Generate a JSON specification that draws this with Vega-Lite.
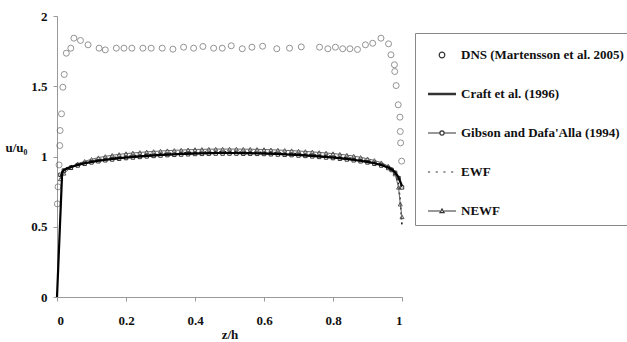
{
  "$schema": "https://vega.github.io/schema/vega-lite/v6.json",
  "width": 345,
  "height": 281,
  "autosize": {"type": "none"},
  "padding": {"left": 57, "top": 16, "right": 225, "bottom": 45},
  "background": "white",
  "config": {
    "view": {"stroke": null},
    "axis": {
      "grid": false,
      "domainColor": "#999",
      "tickColor": "#999",
      "tickSize": 4,
      "labelFont": "Liberation Serif",
      "labelFontWeight": "bold",
      "labelFontSize": 13,
      "labelColor": "#111",
      "titleFont": "Liberation Serif",
      "titleFontWeight": "bold",
      "titleFontSize": 13,
      "titleColor": "#111"
    },
    "legend": {
      "labelFont": "Liberation Serif",
      "labelFontWeight": "bold",
      "labelFontSize": 13,
      "labelColor": "#111"
    }
  },
  "datasets": {
    "dns": [
      {"z": 0.001, "value": 0.663}, {"z": 0.003, "value": 0.784}, {"z": 0.006, "value": 0.94},
      {"z": 0.008, "value": 1.078}, {"z": 0.009, "value": 1.185}, {"z": 0.013, "value": 1.304},
      {"z": 0.017, "value": 1.493}, {"z": 0.021, "value": 1.584}, {"z": 0.027, "value": 1.735},
      {"z": 0.04, "value": 1.771}, {"z": 0.049, "value": 1.842}, {"z": 0.068, "value": 1.826},
      {"z": 0.09, "value": 1.795}, {"z": 0.122, "value": 1.771}, {"z": 0.14, "value": 1.759},
      {"z": 0.172, "value": 1.771}, {"z": 0.194, "value": 1.771}, {"z": 0.217, "value": 1.771},
      {"z": 0.249, "value": 1.771}, {"z": 0.273, "value": 1.771}, {"z": 0.305, "value": 1.771},
      {"z": 0.336, "value": 1.764}, {"z": 0.367, "value": 1.778}, {"z": 0.396, "value": 1.771},
      {"z": 0.423, "value": 1.783}, {"z": 0.454, "value": 1.771}, {"z": 0.479, "value": 1.771},
      {"z": 0.505, "value": 1.788}, {"z": 0.537, "value": 1.767}, {"z": 0.565, "value": 1.778},
      {"z": 0.596, "value": 1.785}, {"z": 0.637, "value": 1.767}, {"z": 0.674, "value": 1.771},
      {"z": 0.708, "value": 1.78}, {"z": 0.761, "value": 1.778}, {"z": 0.785, "value": 1.767},
      {"z": 0.807, "value": 1.778}, {"z": 0.828, "value": 1.767}, {"z": 0.849, "value": 1.767},
      {"z": 0.871, "value": 1.762}, {"z": 0.894, "value": 1.795}, {"z": 0.915, "value": 1.806},
      {"z": 0.939, "value": 1.842}, {"z": 0.961, "value": 1.802}, {"z": 0.968, "value": 1.724},
      {"z": 0.978, "value": 1.653}, {"z": 0.979, "value": 1.605}, {"z": 0.983, "value": 1.505},
      {"z": 0.989, "value": 1.368}, {"z": 0.994, "value": 1.28}, {"z": 0.995, "value": 1.178},
      {"z": 0.996, "value": 1.097}, {"z": 0.999, "value": 0.967}
    ],
    "models": [
      {"z": 0, "craft": 0, "gibson": null, "ewf": null, "newf": null},
      {"z": 0.01, "craft": null, "gibson": 0.87, "ewf": 0.86, "newf": 0.84},
      {"z": 0.015, "craft": 0.89, "gibson": null, "ewf": null, "newf": null},
      {"z": 0.02, "craft": 0.905, "gibson": 0.9, "ewf": 0.91, "newf": 0.88},
      {"z": 0.04, "craft": 0.925, "gibson": 0.92, "ewf": 0.932, "newf": 0.92},
      {"z": 0.06, "craft": 0.94, "gibson": 0.936, "ewf": 0.948, "newf": 0.948},
      {"z": 0.08, "craft": 0.952, "gibson": 0.948, "ewf": 0.96, "newf": 0.966},
      {"z": 0.1, "craft": 0.962, "gibson": 0.958, "ewf": 0.97, "newf": 0.98},
      {"z": 0.12, "craft": 0.97, "gibson": 0.966, "ewf": 0.978, "newf": 0.992},
      {"z": 0.14, "craft": 0.977, "gibson": 0.973, "ewf": 0.985, "newf": 1.001},
      {"z": 0.16, "craft": 0.983, "gibson": 0.979, "ewf": 0.991, "newf": 1.009},
      {"z": 0.18, "craft": 0.988, "gibson": 0.984, "ewf": 0.996, "newf": 1.015},
      {"z": 0.2, "craft": 0.993, "gibson": 0.989, "ewf": 1.001, "newf": 1.021},
      {"z": 0.22, "craft": 0.997, "gibson": 0.993, "ewf": 1.005, "newf": 1.025},
      {"z": 0.24, "craft": 1.001, "gibson": 0.997, "ewf": 1.009, "newf": 1.029},
      {"z": 0.26, "craft": 1.005, "gibson": 1.001, "ewf": 1.013, "newf": 1.033},
      {"z": 0.28, "craft": 1.008, "gibson": 1.004, "ewf": 1.016, "newf": 1.036},
      {"z": 0.3, "craft": 1.011, "gibson": 1.007, "ewf": 1.019, "newf": 1.039},
      {"z": 0.32, "craft": 1.014, "gibson": 1.01, "ewf": 1.022, "newf": 1.042},
      {"z": 0.34, "craft": 1.016, "gibson": 1.012, "ewf": 1.024, "newf": 1.044},
      {"z": 0.36, "craft": 1.018, "gibson": 1.014, "ewf": 1.026, "newf": 1.046},
      {"z": 0.38, "craft": 1.02, "gibson": 1.016, "ewf": 1.028, "newf": 1.048},
      {"z": 0.4, "craft": 1.022, "gibson": 1.018, "ewf": 1.03, "newf": 1.05},
      {"z": 0.42, "craft": 1.023, "gibson": 1.019, "ewf": 1.031, "newf": 1.051},
      {"z": 0.44, "craft": 1.024, "gibson": 1.02, "ewf": 1.032, "newf": 1.052},
      {"z": 0.46, "craft": 1.025, "gibson": 1.021, "ewf": 1.033, "newf": 1.053},
      {"z": 0.48, "craft": 1.025, "gibson": 1.021, "ewf": 1.033, "newf": 1.053},
      {"z": 0.5, "craft": 1.025, "gibson": 1.021, "ewf": 1.033, "newf": 1.053},
      {"z": 0.52, "craft": 1.025, "gibson": 1.021, "ewf": 1.033, "newf": 1.053},
      {"z": 0.54, "craft": 1.024, "gibson": 1.02, "ewf": 1.032, "newf": 1.052},
      {"z": 0.56, "craft": 1.024, "gibson": 1.02, "ewf": 1.032, "newf": 1.052},
      {"z": 0.58, "craft": 1.023, "gibson": 1.019, "ewf": 1.031, "newf": 1.051},
      {"z": 0.6, "craft": 1.022, "gibson": 1.018, "ewf": 1.03, "newf": 1.05},
      {"z": 0.62, "craft": 1.02, "gibson": 1.016, "ewf": 1.028, "newf": 1.048},
      {"z": 0.64, "craft": 1.018, "gibson": 1.014, "ewf": 1.026, "newf": 1.046},
      {"z": 0.66, "craft": 1.016, "gibson": 1.012, "ewf": 1.024, "newf": 1.044},
      {"z": 0.68, "craft": 1.014, "gibson": 1.01, "ewf": 1.022, "newf": 1.042},
      {"z": 0.7, "craft": 1.011, "gibson": 1.007, "ewf": 1.019, "newf": 1.039},
      {"z": 0.72, "craft": 1.008, "gibson": 1.004, "ewf": 1.016, "newf": 1.036},
      {"z": 0.74, "craft": 1.005, "gibson": 1.001, "ewf": 1.013, "newf": 1.033},
      {"z": 0.76, "craft": 1.001, "gibson": 0.997, "ewf": 1.009, "newf": 1.029},
      {"z": 0.78, "craft": 0.997, "gibson": 0.993, "ewf": 1.005, "newf": 1.025},
      {"z": 0.8, "craft": 0.993, "gibson": 0.989, "ewf": 1.001, "newf": 1.021},
      {"z": 0.82, "craft": 0.988, "gibson": 0.984, "ewf": 0.996, "newf": 1.016},
      {"z": 0.84, "craft": 0.983, "gibson": 0.979, "ewf": 0.991, "newf": 1.01},
      {"z": 0.86, "craft": 0.977, "gibson": 0.973, "ewf": 0.985, "newf": 1.003},
      {"z": 0.88, "craft": 0.97, "gibson": 0.966, "ewf": 0.978, "newf": 0.994},
      {"z": 0.9, "craft": 0.962, "gibson": 0.958, "ewf": 0.97, "newf": 0.984},
      {"z": 0.92, "craft": 0.952, "gibson": 0.948, "ewf": 0.96, "newf": 0.972},
      {"z": 0.94, "craft": 0.94, "gibson": 0.936, "ewf": 0.948, "newf": 0.956},
      {"z": 0.96, "craft": 0.922, "gibson": 0.918, "ewf": 0.93, "newf": 0.932},
      {"z": 0.97, "craft": 0.908, "gibson": 0.904, "ewf": 0.914, "newf": 0.912},
      {"z": 0.98, "craft": 0.888, "gibson": 0.884, "ewf": 0.888, "newf": 0.875},
      {"z": 0.99, "craft": 0.852, "gibson": 0.846, "ewf": 0.8, "newf": 0.78},
      {"z": 0.995, "craft": null, "gibson": null, "ewf": 0.68, "newf": 0.66},
      {"z": 1.0, "craft": 0.79, "gibson": 0.78, "ewf": 0.51, "newf": 0.57}
    ]
  },
  "encoding": {
    "x": {
      "field": "z", "type": "quantitative",
      "scale": {"domain": [0, 1], "nice": false},
      "axis": {
        "values": [0, 0.2, 0.4, 0.6, 0.8, 1], "format": "~g",
        "labelPadding": 13, "title": "z/h",
        "titleY": 37, "titleBaseline": "middle", "titleAnchor": "middle"
      }
    },
    "y": {
      "field": "value", "type": "quantitative",
      "scale": {"domain": [0, 2], "nice": false},
      "axis": {
        "values": [0, 0.5, 1, 1.5, 2], "format": "~g",
        "labelPadding": 6, "title": "u/u₀",
        "titleAngle": 0, "titleX": -41, "titleY": 131,
        "titleAlign": "center", "titleBaseline": "middle"
      }
    }
  },
  "layer": [
    {
      "data": {"name": "dns"},
      "mark": {"type": "point", "shape": "circle", "size": 36, "filled": false, "stroke": "#666", "strokeWidth": 1}
    },
    {
      "data": {"name": "models"},
      "transform": [
        {"fold": ["craft", "gibson", "ewf", "newf"], "as": ["series", "value"]},
        {"filter": "isValid(datum.value) && datum.series == 'ewf'"}
      ],
      "mark": {"type": "line", "color": "#111", "strokeWidth": 1.5, "strokeDash": [2, 3]}
    },
    {
      "data": {"name": "models"},
      "transform": [
        {"fold": ["craft", "gibson", "ewf", "newf"], "as": ["series", "value"]},
        {"filter": "isValid(datum.value) && datum.series == 'newf'"}
      ],
      "mark": {"type": "line", "color": "#666", "strokeWidth": 1,
        "point": {"shape": "triangle-up", "size": 16, "filled": false, "stroke": "#555", "strokeWidth": 1}}
    },
    {
      "data": {"name": "models"},
      "transform": [
        {"fold": ["craft", "gibson", "ewf", "newf"], "as": ["series", "value"]},
        {"filter": "isValid(datum.value) && datum.series == 'gibson'"}
      ],
      "mark": {"type": "line", "color": "#222", "strokeWidth": 1,
        "point": {"shape": "square", "size": 12, "filled": false, "stroke": "#333", "strokeWidth": 1}}
    },
    {
      "data": {"name": "models"},
      "transform": [
        {"fold": ["craft", "gibson", "ewf", "newf"], "as": ["series", "value"]},
        {"filter": "isValid(datum.value) && datum.series == 'craft'"}
      ],
      "mark": {"type": "line", "color": "#000", "strokeWidth": 2.2}
    },
    {
      "data": {"name": "models"},
      "transform": [
        {"fold": ["craft", "gibson", "ewf", "newf"], "as": ["series", "value"]},
        {"filter": "isValid(datum.value)"}
      ],
      "mark": {"type": "point", "opacity": 0, "filled": false, "color": "#333"},
      "encoding": {
        "shape": {
          "field": "series", "type": "nominal",
          "scale": {
            "domain": ["dns", "craft", "gibson", "ewf", "newf"],
            "range": [
              "M-0.2,0A0.2,0.2,0,1,1,0.2,0A0.2,0.2,0,1,1,-0.2,0Z",
              "M-1,-0.05L1,-0.05M-1,0L1,0M-1,0.05L1,0.05",
              "M-1,0L-0.15,0M0.15,0L1,0M-0.15,0A0.15,0.15,0,1,1,0.15,0A0.15,0.15,0,1,1,-0.15,0Z",
              "M-1,0L-0.85,0M-0.45,0L-0.3,0M0.1,0L0.25,0M0.65,0L0.8,0",
              "M-1,0L-0.15,0M0.15,0L1,0M-0.15,0.12L0,-0.14L0.15,0.12Z"
            ]
          },
          "legend": {
            "title": null,
            "orient": "none",
            "legendX": 358,
            "legendY": 17,
            "direction": "vertical",
            "strokeColor": "#888",
            "fillColor": "white",
            "padding": 7,
            "symbolOffset": 5,
            "labelOffset": 4,
            "rowPadding": 17,
            "symbolSize": 784,
            "symbolStrokeWidth": 1.2,
            "symbolStrokeColor": "#333",
            "symbolOpacity": 1,
            "labelLimit": 300,
            "labelExpr": "{'dns': 'DNS (Martensson et al. 2005)', 'craft': 'Craft et al. (1996)', 'gibson': \"Gibson and Dafa'Alla (1994)\", 'ewf': 'EWF', 'newf': 'NEWF'}[datum.label]"
          }
        }
      }
    }
  ]
}
